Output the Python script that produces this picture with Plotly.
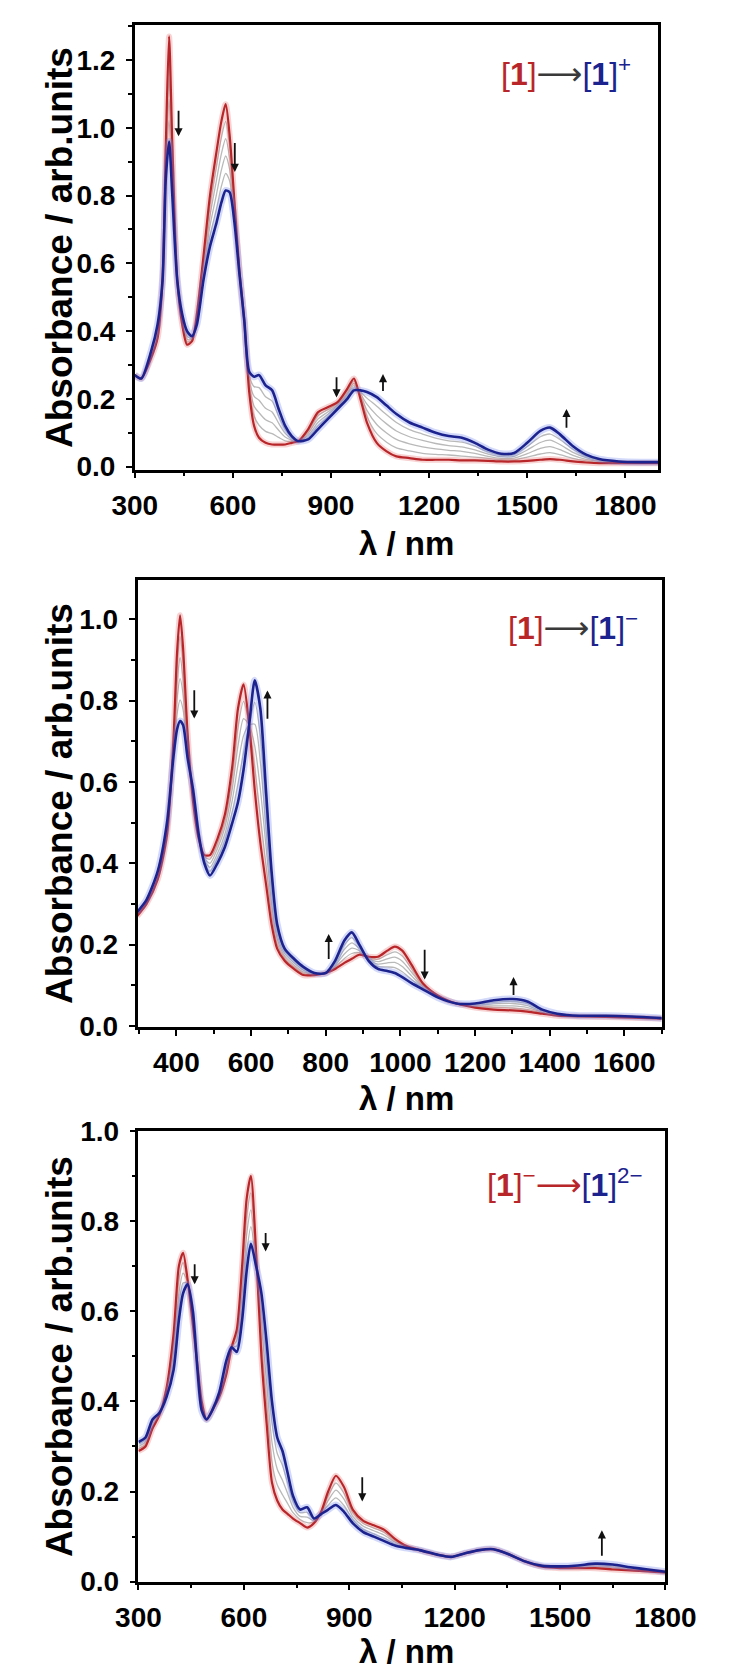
import plotly.graph_objects as go

# ---------------- Panel 1 : [1] -> [1]+ ----------------
wl1 = [300, 320, 350, 370, 385, 395, 405, 415, 430, 445, 460, 475, 490, 510, 530, 550, 565, 578, 590, 605,
       620, 635, 650, 665, 680, 700, 720, 740, 760, 780, 800, 830, 860, 890, 920, 950, 970, 990, 1010, 1040,
       1070, 1100, 1140, 1180, 1220, 1260, 1300, 1340, 1380, 1420, 1460, 1500, 1540, 1570, 1600, 1640, 1680,
       1720, 1780, 1850, 1900]
p1_red = [0.27, 0.26, 0.32, 0.38, 0.55, 0.95, 1.27, 0.95, 0.55, 0.42, 0.36, 0.37, 0.45, 0.62, 0.80, 0.93, 1.02, 1.07, 0.98, 0.78,
          0.58, 0.43, 0.22, 0.12, 0.085, 0.07, 0.065, 0.065, 0.065, 0.07, 0.075, 0.11, 0.16, 0.175, 0.19, 0.23, 0.26, 0.20, 0.13, 0.07,
          0.045, 0.03, 0.025, 0.02, 0.02, 0.02, 0.018, 0.018, 0.017, 0.015, 0.015, 0.017, 0.02, 0.022, 0.02, 0.015, 0.012,
          0.01, 0.01, 0.01, 0.01]
p1_gray1 = [0.27, 0.26, 0.324, 0.388, 0.55, 0.93, 1.208, 0.92, 0.55, 0.426, 0.368, 0.373, 0.444, 0.606, 0.77, 0.888, 0.972, 1.019, 0.946, 0.768,
            0.578, 0.43, 0.232, 0.149, 0.122, 0.104, 0.097, 0.086, 0.076, 0.074, 0.075, 0.104, 0.15, 0.168, 0.186, 0.224, 0.253, 0.205, 0.148, 0.097,
            0.072, 0.055, 0.046, 0.039, 0.036, 0.034, 0.031, 0.028, 0.024, 0.020, 0.020, 0.028, 0.037, 0.041, 0.035, 0.024, 0.017,
            0.012, 0.011, 0.011, 0.011]
p1_gray2 = [0.27, 0.26, 0.328, 0.396, 0.55, 0.91, 1.146, 0.89, 0.55, 0.432, 0.376, 0.376, 0.438, 0.592, 0.74, 0.846, 0.924, 0.968, 0.912, 0.756,
            0.576, 0.43, 0.244, 0.178, 0.159, 0.138, 0.129, 0.107, 0.087, 0.078, 0.075, 0.098, 0.14, 0.161, 0.182, 0.218, 0.246, 0.21, 0.166, 0.124,
            0.099, 0.08, 0.067, 0.058, 0.052, 0.048, 0.045, 0.039, 0.030, 0.024, 0.025, 0.038, 0.054, 0.059, 0.05, 0.033, 0.021,
            0.015, 0.012, 0.011, 0.011]
p1_gray3 = [0.27, 0.26, 0.332, 0.404, 0.55, 0.89, 1.084, 0.86, 0.55, 0.438, 0.384, 0.379, 0.432, 0.578, 0.71, 0.804, 0.876, 0.917, 0.878, 0.744,
            0.574, 0.43, 0.256, 0.207, 0.196, 0.172, 0.161, 0.128, 0.098, 0.082, 0.075, 0.092, 0.13, 0.154, 0.178, 0.212, 0.239, 0.215, 0.184, 0.151,
            0.126, 0.105, 0.088, 0.077, 0.068, 0.062, 0.058, 0.049, 0.037, 0.029, 0.030, 0.049, 0.071, 0.078, 0.065, 0.042, 0.026,
            0.017, 0.013, 0.012, 0.012]
p1_gray4 = [0.27, 0.26, 0.336, 0.412, 0.55, 0.87, 1.022, 0.83, 0.55, 0.444, 0.392, 0.382, 0.426, 0.564, 0.68, 0.762, 0.828, 0.866, 0.844, 0.732,
            0.572, 0.43, 0.268, 0.236, 0.233, 0.206, 0.193, 0.149, 0.109, 0.086, 0.075, 0.086, 0.12, 0.147, 0.174, 0.206, 0.232, 0.22, 0.202, 0.178,
            0.153, 0.13, 0.109, 0.096, 0.084, 0.076, 0.072, 0.060, 0.043, 0.033, 0.035, 0.059, 0.088, 0.096, 0.08, 0.051, 0.030,
            0.020, 0.014, 0.012, 0.012]
p1_blue = [0.27, 0.26, 0.34, 0.42, 0.55, 0.85, 0.96, 0.80, 0.55, 0.45, 0.40, 0.385, 0.42, 0.55, 0.65, 0.72, 0.78, 0.815, 0.81, 0.72,
           0.57, 0.43, 0.28, 0.265, 0.27, 0.24, 0.225, 0.17, 0.12, 0.09, 0.075, 0.08, 0.11, 0.14, 0.17, 0.20, 0.225, 0.225, 0.22, 0.205,
           0.18, 0.155, 0.13, 0.115, 0.10, 0.09, 0.085, 0.07, 0.05, 0.038, 0.04, 0.07, 0.105, 0.115, 0.095, 0.06, 0.035,
           0.022, 0.015, 0.013, 0.013]

# ---------------- Panel 2 : [1] -> [1]- ----------------
wl2 = [295, 320, 350, 375, 392, 402, 410, 418, 430, 445, 460, 475, 490, 510, 530, 550, 565, 580, 595, 610,
       625, 640, 655, 670, 690, 715, 740, 770, 800, 825, 850, 870, 890, 915, 940, 965, 985, 1005, 1030, 1060,
       1100, 1150, 1200, 1250, 1300, 1340, 1380, 1420, 1480, 1550, 1620, 1700]
p2_red = [0.27, 0.30, 0.36, 0.47, 0.70, 0.92, 1.01, 0.93, 0.72, 0.55, 0.46, 0.42, 0.42, 0.46, 0.52, 0.64, 0.78, 0.84, 0.74, 0.58,
          0.45, 0.35, 0.25, 0.19, 0.16, 0.14, 0.125, 0.125, 0.13, 0.14, 0.155, 0.165, 0.175, 0.17, 0.17, 0.185, 0.195, 0.185, 0.15, 0.105,
          0.075, 0.055, 0.045, 0.04, 0.038, 0.035, 0.03, 0.025, 0.023, 0.022, 0.02, 0.018]
p2_gray1 = [0.272, 0.302, 0.364, 0.476, 0.692, 0.882, 0.958, 0.892, 0.708, 0.556, 0.462, 0.416, 0.41, 0.448, 0.504, 0.612, 0.734, 0.798, 0.74, 0.634,
            0.516, 0.396, 0.276, 0.202, 0.166, 0.145, 0.129, 0.126, 0.13, 0.144, 0.166, 0.178, 0.18, 0.168, 0.164, 0.175, 0.182, 0.172, 0.141, 0.102,
            0.074, 0.055, 0.047, 0.045, 0.044, 0.040, 0.032, 0.026, 0.023, 0.023, 0.021, 0.018]
p2_gray2 = [0.274, 0.304, 0.368, 0.482, 0.684, 0.844, 0.906, 0.854, 0.696, 0.562, 0.464, 0.412, 0.40, 0.436, 0.488, 0.584, 0.688, 0.756, 0.74, 0.688,
            0.582, 0.442, 0.302, 0.214, 0.172, 0.15, 0.133, 0.127, 0.13, 0.148, 0.177, 0.191, 0.185, 0.166, 0.158, 0.165, 0.169, 0.159, 0.132, 0.099,
            0.073, 0.055, 0.049, 0.049, 0.049, 0.045, 0.034, 0.027, 0.024, 0.023, 0.021, 0.018]
p2_gray3 = [0.276, 0.306, 0.372, 0.488, 0.676, 0.806, 0.854, 0.816, 0.684, 0.568, 0.466, 0.408, 0.39, 0.424, 0.472, 0.556, 0.642, 0.714, 0.74, 0.742,
            0.648, 0.488, 0.328, 0.226, 0.178, 0.155, 0.137, 0.128, 0.13, 0.152, 0.188, 0.204, 0.19, 0.164, 0.152, 0.155, 0.156, 0.146, 0.123, 0.096,
            0.072, 0.055, 0.051, 0.054, 0.055, 0.050, 0.036, 0.028, 0.024, 0.024, 0.022, 0.019]
p2_gray4 = [0.278, 0.308, 0.376, 0.494, 0.668, 0.768, 0.802, 0.778, 0.672, 0.574, 0.468, 0.404, 0.38, 0.412, 0.456, 0.528, 0.596, 0.672, 0.74, 0.796,
            0.714, 0.534, 0.354, 0.238, 0.184, 0.16, 0.141, 0.129, 0.13, 0.156, 0.199, 0.217, 0.195, 0.162, 0.146, 0.145, 0.143, 0.133, 0.114, 0.093,
            0.071, 0.055, 0.053, 0.058, 0.060, 0.055, 0.038, 0.029, 0.025, 0.024, 0.022, 0.019]
p2_blue = [0.28, 0.31, 0.38, 0.50, 0.66, 0.73, 0.75, 0.74, 0.66, 0.58, 0.47, 0.40, 0.37, 0.40, 0.44, 0.50, 0.55, 0.63, 0.74, 0.85,
           0.78, 0.58, 0.38, 0.25, 0.19, 0.165, 0.145, 0.13, 0.13, 0.16, 0.21, 0.23, 0.20, 0.16, 0.14, 0.135, 0.13, 0.12, 0.105, 0.09,
           0.07, 0.055, 0.055, 0.063, 0.066, 0.06, 0.04, 0.03, 0.025, 0.025, 0.023, 0.019]

# ---------------- Panel 3 : [1]- -> [1]2- ----------------
wl3 = [300, 320, 340, 360, 380, 400, 415, 427, 440, 455, 468, 480, 494, 510, 530, 550, 565, 580, 595, 608,
       620, 635, 650, 665, 680, 695, 710, 725, 740, 760, 780, 800, 820, 840, 862, 885, 910, 940, 970, 1000,
       1030, 1060, 1100, 1150, 1190, 1230, 1270, 1310, 1350, 1400, 1450, 1500, 1550, 1600, 1650, 1700, 1750, 1800]
p3_red = [0.29, 0.30, 0.34, 0.37, 0.43, 0.55, 0.70, 0.73, 0.67, 0.57, 0.48, 0.40, 0.36, 0.38, 0.41, 0.46, 0.52, 0.56, 0.70, 0.85,
          0.90, 0.73, 0.50, 0.35, 0.22, 0.18, 0.16, 0.15, 0.14, 0.13, 0.12, 0.13, 0.155, 0.20, 0.235, 0.21, 0.16, 0.135, 0.125, 0.115,
          0.095, 0.08, 0.07, 0.06, 0.055, 0.063, 0.07, 0.072, 0.062, 0.045, 0.033, 0.03, 0.03, 0.03, 0.027, 0.025, 0.023, 0.02]
p3_gray1 = [0.295, 0.305, 0.345, 0.371, 0.425, 0.53, 0.67, 0.708, 0.668, 0.578, 0.478, 0.395, 0.36, 0.38, 0.413, 0.468, 0.52, 0.548, 0.67, 0.81,
            0.863, 0.723, 0.535, 0.395, 0.265, 0.215, 0.193, 0.173, 0.153, 0.138, 0.131, 0.133, 0.154, 0.19, 0.219, 0.196, 0.153, 0.129, 0.119, 0.109,
            0.091, 0.079, 0.07, 0.06, 0.055, 0.063, 0.07, 0.072, 0.062, 0.045, 0.034, 0.031, 0.032, 0.033, 0.030, 0.027, 0.024, 0.021]
p3_gray2 = [0.30, 0.31, 0.35, 0.373, 0.42, 0.51, 0.64, 0.685, 0.665, 0.585, 0.475, 0.39, 0.36, 0.38, 0.415, 0.475, 0.52, 0.535, 0.64, 0.77,
            0.825, 0.715, 0.57, 0.44, 0.31, 0.25, 0.225, 0.195, 0.165, 0.145, 0.143, 0.135, 0.153, 0.18, 0.203, 0.183, 0.145, 0.123, 0.113, 0.103,
            0.088, 0.078, 0.07, 0.06, 0.055, 0.063, 0.07, 0.072, 0.062, 0.045, 0.034, 0.032, 0.033, 0.035, 0.033, 0.029, 0.025, 0.021]
p3_gray3 = [0.305, 0.315, 0.355, 0.374, 0.415, 0.49, 0.61, 0.663, 0.663, 0.593, 0.473, 0.385, 0.36, 0.38, 0.418, 0.483, 0.52, 0.523, 0.61, 0.73,
            0.788, 0.708, 0.605, 0.485, 0.355, 0.285, 0.258, 0.218, 0.178, 0.153, 0.154, 0.138, 0.151, 0.17, 0.186, 0.169, 0.138, 0.116, 0.106, 0.096,
            0.084, 0.076, 0.07, 0.06, 0.055, 0.063, 0.07, 0.072, 0.062, 0.045, 0.035, 0.033, 0.035, 0.038, 0.035, 0.030, 0.026, 0.022]
p3_blue = [0.31, 0.32, 0.36, 0.375, 0.41, 0.47, 0.58, 0.64, 0.66, 0.60, 0.47, 0.38, 0.36, 0.38, 0.42, 0.49, 0.52, 0.51, 0.58, 0.69,
           0.75, 0.70, 0.64, 0.53, 0.40, 0.32, 0.29, 0.24, 0.19, 0.16, 0.165, 0.14, 0.15, 0.16, 0.17, 0.155, 0.13, 0.11, 0.10, 0.09,
           0.08, 0.075, 0.07, 0.06, 0.055, 0.063, 0.07, 0.072, 0.062, 0.045, 0.035, 0.034, 0.036, 0.04, 0.038, 0.032, 0.027, 0.022]

# arrows: (wavelength, tail absorbance, head absorbance)
p1_arrows = [(434, 1.055, 0.975), (606, 0.96, 0.87), (917, 0.268, 0.204), (1059, 0.219, 0.273), (1620, 0.11, 0.17)]
p2_arrows = [(448, 0.829, 0.756), (644, 0.752, 0.825), (808, 0.161, 0.226), (1065, 0.191, 0.114), (1303, 0.072, 0.12)]
p3_arrows = [(460, 0.708, 0.66), (662, 0.777, 0.733), (937, 0.235, 0.178), (1619, 0.054, 0.114)]

RED = "#b8262a"
BLUE = "#1c238e"
GRAY = "#b9b9b9"
W, H = 732, 1677
FONT = "Liberation Sans, Arial, sans-serif"
ARROW = '<span style="font-family:DejaVu Sans">⟶</span>'

panels = [
    dict(wl=wl1, red=p1_red, grays=[p1_gray1, p1_gray2, p1_gray3, p1_gray4], blue=p1_blue, arrows=p1_arrows,
         xpx=(112, 677), ypx=(2, 455), xr=[300, 1900], yr=[-0.009, 1.304], xdt=300, xt0=300,
         label='<span style="color:%s">[<b>1</b>]</span><span style="color:#3a3a3a">%s</span>'
               '<span style="color:%s">[<b>1</b>]<sup>+</sup></span>' % (RED, ARROW, BLUE),
         lab_pos=(650, 50), xtitle_y=530),
    dict(wl=wl2, red=p2_red, grays=[p2_gray1, p2_gray2, p2_gray3, p2_gray4], blue=p2_blue, arrows=p2_arrows,
         xpx=(115, 681), ypx=(567, 1023), xr=[296, 1700], yr=[-0.003, 1.098], xdt=200, xt0=400,
         label='<span style="color:%s">[<b>1</b>]</span><span style="color:#3a3a3a">%s</span>'
               '<span style="color:%s">[<b>1</b>]<sup>−</sup></span>' % (RED, ARROW, BLUE),
         lab_pos=(657, 615), xtitle_y=1096),
    dict(wl=wl3, red=p3_red, grays=[p3_gray1, p3_gray2, p3_gray3], blue=p3_blue, arrows=p3_arrows,
         xpx=(116, 685), ypx=(1129, 1588), xr=[300, 1800], yr=[0, 1.0], xdt=300, xt0=300,
         label='<span style="color:%s">[<b>1</b>]<sup>−</sup>%s</span>'
               '<span style="color:%s">[<b>1</b>]<sup>2−</sup></span>' % (RED, ARROW, BLUE),
         lab_pos=(663, 1182), xtitle_y=1659),
]

fig = go.Figure()
annotations = []
layout_axes = {}

for i, p in enumerate(panels, start=1):
    xa = "x" if i == 1 else "x%d" % i
    ya = "y" if i == 1 else "y%d" % i
    common = dict(xaxis=xa, yaxis=ya, mode="lines", showlegend=False, hoverinfo="skip",
                  line_shape="spline")
    for g in p["grays"]:
        fig.add_trace(go.Scatter(x=p["wl"], y=g, line=dict(color=GRAY, width=1.3, smoothing=0.7), **common))
    # halo + main lines
    fig.add_trace(go.Scatter(x=p["wl"], y=p["red"], line=dict(color="rgba(230,110,110,0.30)", width=6, smoothing=0.7), **common))
    fig.add_trace(go.Scatter(x=p["wl"], y=p["red"], line=dict(color=RED, width=2.2, smoothing=0.7), **common))
    fig.add_trace(go.Scatter(x=p["wl"], y=p["blue"], line=dict(color="rgba(110,130,235,0.30)", width=7, smoothing=0.7), **common))
    fig.add_trace(go.Scatter(x=p["wl"], y=p["blue"], line=dict(color=BLUE, width=2.6, smoothing=0.7), **common))

    x0, x1 = p["xpx"]
    y0, y1 = p["ypx"]
    axkey_x = "xaxis" if i == 1 else "xaxis%d" % i
    axkey_y = "yaxis" if i == 1 else "yaxis%d" % i
    tickfont = dict(family=FONT, size=28, color="black", weight="bold")
    layout_axes[axkey_x] = dict(
        domain=[x0 / W, x1 / W], anchor=ya, range=p["xr"], tick0=p["xt0"], dtick=p["xdt"],
        showline=True, linecolor="black", linewidth=2.5, mirror=True, ticks="outside", ticklen=6,
        tickwidth=2, tickcolor="black", showgrid=False, zeroline=False, tickfont=tickfont,
        ticklabelstandoff=3,
        minor=dict(ticks="outside", ticklen=4, tickwidth=2, tickcolor="black", dtick=p["xdt"] / 2, showgrid=False),
    )
    layout_axes[axkey_y] = dict(
        domain=[1 - y1 / H, 1 - y0 / H], anchor=xa, range=p["yr"], tick0=0, dtick=0.2, tickformat=".1f",
        showline=True, linecolor="black", linewidth=2.5, mirror=True, ticks="outside", ticklen=6,
        tickwidth=2, tickcolor="black", showgrid=False, zeroline=False, tickfont=tickfont,
        ticklabelstandoff=5,
        minor=dict(ticks="outside", ticklen=4, tickwidth=2, tickcolor="black", dtick=0.1, showgrid=False),
    )

    # y title
    annotations.append(dict(xref="paper", yref="paper", x=31 / W, y=1 - ((y0 + y1) / 2) / H,
                            text="<b>Absorbance / arb.units</b>", textangle=-90, showarrow=False,
                            xanchor="center", yanchor="middle",
                            font=dict(family=FONT, size=37, color="black")))
    # x title
    annotations.append(dict(xref="paper", yref="paper", x=405 / W, y=1 - p["xtitle_y"] / H,
                            text="<b>λ / nm</b>", showarrow=False, xanchor="center", yanchor="middle",
                            font=dict(family=FONT, size=33, color="black")))
    # state label
    lx, ly = p["lab_pos"]
    annotations.append(dict(xref="paper", yref="paper", x=lx / W, y=1 - ly / H, text=p["label"],
                            showarrow=False, xanchor="right", yanchor="middle",
                            font=dict(family=FONT, size=32)))
    # trend arrows
    for (wx, tail, head) in p["arrows"]:
        annotations.append(dict(xref=xa, yref=ya, axref=xa, ayref=ya, x=wx, y=head, ax=wx, ay=tail,
                                text="", showarrow=True, arrowhead=2, arrowsize=0.9, arrowwidth=1.8,
                                arrowcolor="#111111"))

fig.update_layout(
    width=W, height=H, margin=dict(l=0, r=0, t=0, b=0),
    paper_bgcolor="white", plot_bgcolor="white",
    annotations=annotations, **layout_axes,
)

fig.write_html("out.html")
